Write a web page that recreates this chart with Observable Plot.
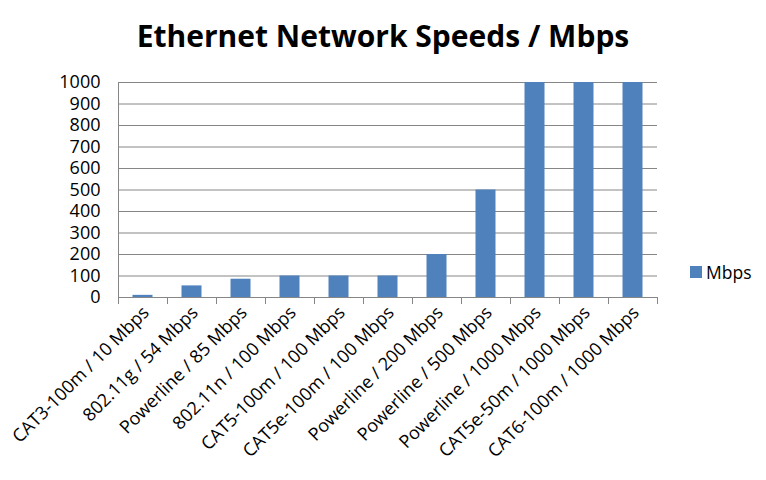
<!DOCTYPE html>
<html>
<head>
<meta charset="utf-8">
<script src="https://cdn.jsdelivr.net/npm/d3@7"></script>
<script src="https://cdn.jsdelivr.net/npm/@observablehq/plot@0.6"></script>
<style>
  body { margin: 0; background: #fff; font-family: "Open Sans", sans-serif; }
  #wrap { position: relative; width: 766px; height: 480px; }
  #title { height: 62px; line-height: 72px; text-align: center; font-weight: bold; font-size: 30px; color: #000; overflow: visible; }
  #legend { position: absolute; left: 690px; top: 260px; display: flex; align-items: center; font-size: 17.5px; color: #000; }
  #legend .sw { width: 12px; height: 12px; background: #4F81BD; margin-right: 4px; }
</style>
</head>
<body>
<div id="wrap">
  <div id="title">Ethernet Network Speeds / Mbps</div>
  <div id="chart"></div>
  <div id="legend"><div class="sw"></div><span>Mbps</span></div>
</div>
<script>
const categories = [
  "CAT3-100m / 10 Mbps",
  "802.11g / 54 Mbps",
  "Powerline / 85 Mbps",
  "802.11n / 100 Mbps",
  "CAT5-100m / 100 Mbps",
  "CAT5e-100m / 100 Mbps",
  "Powerline / 200 Mbps",
  "Powerline / 500 Mbps",
  "Powerline / 1000 Mbps",
  "CAT5e-50m / 1000 Mbps",
  "CAT6-100m / 1000 Mbps"
];
const values = [10, 54, 85, 100, 100, 100, 200, 500, 1000, 1000, 1000];
const yTicks = [0, 100, 200, 300, 400, 500, 600, 700, 800, 900, 1000];

const data = categories.map((c, i) => ({ c, i, v: values[i] }));
const n = categories.length;
const grid = "#868686";

const chart = Plot.plot({
  width: 766,
  height: 418,
  marginTop: 20,
  marginBottom: 183,
  marginLeft: 118,
  marginRight: 109,
  style: { fontFamily: "Open Sans, sans-serif", color: "#000", background: "#fff" },
  x: { type: "linear", domain: [0, n], label: null },
  y: { domain: [0, 1000], label: null },
  marks: [
    Plot.gridY(yTicks, { stroke: grid, strokeOpacity: 1 }),
    Plot.rectY(data, { x1: "i", x2: d => d.i + 1, y: "v", fill: "#4F81BD", insetLeft: 14.5, insetRight: 14.5 }),
    Plot.ruleX([0], { stroke: grid }),
    Plot.ruleY([0], { stroke: grid }),
    Plot.axisY(yTicks, { tickSize: 0, tickPadding: 18, fontSize: 18, fill: "#000", label: null, tickFormat: d => String(d) }),
    Plot.axisX(d3.range(n + 1), { tickSize: 7, text: null, stroke: grid, label: null }),
    Plot.axisX(data.map(d => d.i + 0.5), {
      tickSize: 0, tickRotate: -45, tickPadding: 12, fontSize: 18, fill: "#000", label: null,
      tickFormat: d => categories[Math.floor(d)], dx: 3
    })
  ]
});
document.getElementById("chart").appendChild(chart);
</script>
</body>
</html>
